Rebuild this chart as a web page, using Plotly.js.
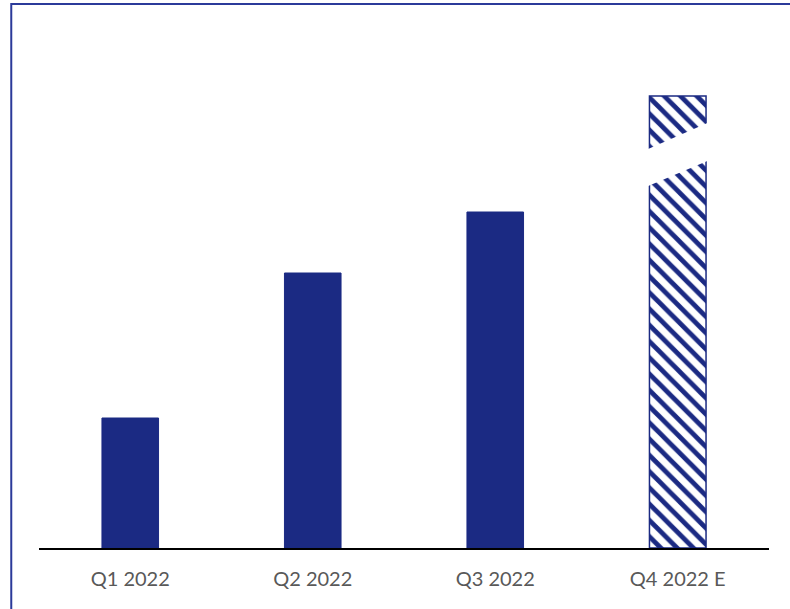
<!DOCTYPE html>
<html>
<head>
<meta charset="utf-8">
<script src="https://cdn.plot.ly/plotly-3.0.1.min.js"></script>
<style>html,body{margin:0;padding:0;background:#fff;}#chart{width:790px;height:609px;}</style>
</head>
<body>
<div id="chart"></div>
<script>
// Data (relative values; no y-axis labels in source)
const categories = ["Q1 2022", "Q2 2022", "Q3 2022", "Q4 2022 E"];
const values = [1.30, 2.75, 3.36, 4.52];
const estimated = [false, false, false, true];
// Break band on the estimated bar (values at left and right edge)
const breakLowLeft = 3.61, breakLowRight = 3.88;
const breakHighLeft = 3.98, breakHighRight = 4.26;

const navy = "#1B2A83";
const xIdx = categories.map((c, i) => i);

const solidX = xIdx.filter(i => !estimated[i]);
const estX = xIdx.filter(i => estimated[i]);

const traces = [
  {
    type: "bar",
    x: solidX,
    y: solidX.map(i => values[i]),
    width: 0.31,
    marker: { color: navy, line: { color: navy, width: 1 } },
    hoverinfo: "skip"
  },
  {
    type: "bar",
    x: estX,
    y: estX.map(i => values[i]),
    width: 0.31,
    marker: {
      color: "#ffffff",
      line: { color: navy, width: 1.5 },
      pattern: { shape: "\\", fgcolor: navy, bgcolor: "#ffffff", fgopacity: 1, size: 11.5, solidity: 0.42, fillmode: "replace" }
    },
    hoverinfo: "skip"
  }
];

const bx = estX[0];
const hw = 0.175;
const shapes = [
  {
    type: "path", xref: "x", yref: "y", layer: "above",
    path: `M ${bx - hw} ${breakLowLeft} L ${bx + hw} ${breakLowRight} L ${bx + hw} ${breakHighRight} L ${bx - hw} ${breakHighLeft} Z`,
    fillcolor: "#ffffff", line: { width: 0 }
  },
  {
    type: "rect", xref: "paper", yref: "paper", layer: "above",
    x0: -0.038, x1: 1.2, y0: -0.2, y1: 1.071,
    line: { color: "#2B3A9A", width: 2 }, fillcolor: "rgba(0,0,0,0)"
  }
];

const layout = {
  width: 790, height: 609,
  margin: { l: 39, r: 21, t: 40, b: 61 },
  paper_bgcolor: "#ffffff", plot_bgcolor: "#ffffff",
  showlegend: false,
  barmode: "overlay",
  font: { family: "Lato, 'Liberation Sans', sans-serif", color: "#595959", size: 20 },
  xaxis: {
    range: [-0.5, 3.5],
    tickvals: xIdx, ticktext: categories,
    showgrid: false, zeroline: false,
    showline: true, linecolor: "#000000", linewidth: 2,
    ticks: "", ticklabelstandoff: 12,
    tickfont: { size: 20, color: "#595959" },
    fixedrange: true
  },
  yaxis: {
    range: [0, 5.08],
    showgrid: false, zeroline: false, showline: false,
    showticklabels: false, ticks: "",
    fixedrange: true
  },
  shapes: shapes
};

Plotly.newPlot("chart", traces, layout, { displayModeBar: false, staticPlot: true });
</script>
</body>
</html>
